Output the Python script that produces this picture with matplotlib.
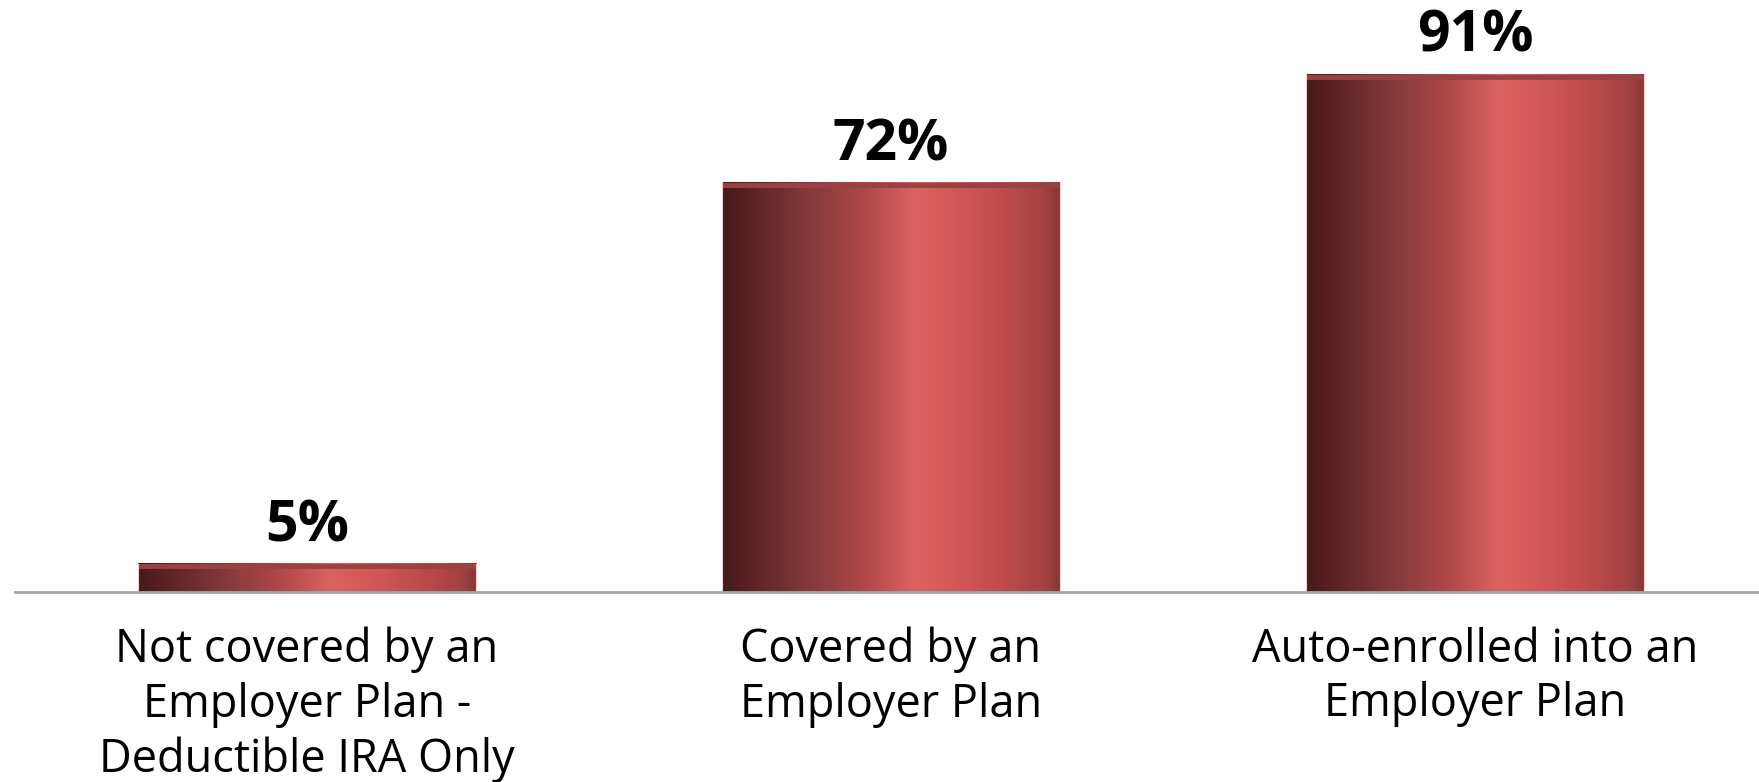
import numpy as np
import matplotlib
matplotlib.use('Agg')
import matplotlib.pyplot as plt
from matplotlib.colors import LinearSegmentedColormap
from matplotlib.transforms import offset_copy

categories = ['Not covered by an\nEmployer Plan -\nDeductible IRA Only',
              'Covered by an\nEmployer Plan',
              'Auto-enrolled into an\nEmployer Plan']
values = [5, 72, 91]
value_labels = ['5%', '72%', '91%']

plt.rcParams['font.family'] = ['Open Sans', 'DejaVu Sans']

# horizontal shading to fake the cylinder look
cyl = LinearSegmentedColormap.from_list('cyl', [
    (0.0, '#461a1a'), (0.06, '#562020'), (0.28, '#8a3c3c'), (0.42, '#ae4848'),
    (0.57, '#dc6262'), (0.67, '#d45a5a'), (0.82, '#c04c4c'), (0.95, '#a44242'),
    (1.0, '#883636')])

fig = plt.figure(figsize=(17.59, 7.82), dpi=100)
ax = fig.add_axes([15 / 1759, 190 / 782, 1752 / 1759, 569 / 782])

x = np.arange(len(values))
bars = ax.bar(x, values, width=0.58, color='none', edgecolor='none', zorder=2)

rim_lw = 3.5
rim_trans = offset_copy(ax.transData, fig=fig, y=-rim_lw / 2, units='points')
grad = np.linspace(0, 1, 256).reshape(1, -1)
for b, lab in zip(bars, value_labels):
    x0, y0 = b.get_x(), b.get_y()
    x1, y1 = x0 + b.get_width(), y0 + b.get_height()
    ax.imshow(grad, cmap=cyl, extent=[x0, x1, y0, y1], aspect='auto',
              interpolation='bicubic', zorder=2)
    # flat top rim
    ax.plot([x0, x1], [y1, y1], color='#9a4242', lw=rim_lw, solid_capstyle='butt',
            transform=rim_trans, zorder=3)
    ax.plot([x0, x0], [y0, y1], color='#ecd2d2', lw=0.8, zorder=3)
    ax.plot([x1, x1], [y0, y1], color='#ecd2d2', lw=0.8, zorder=3)
    ax.annotate(lab, (b.get_x() + b.get_width() / 2, y1), xytext=(0, 16),
                textcoords='offset points', ha='center', va='baseline',
                fontsize=41, fontweight='bold', color='black')

for xi, cat in zip(x, categories):
    ax.annotate(cat, (xi, 0), xytext=(0, -25), textcoords='offset points',
                ha='center', va='top', fontsize=32.5, linespacing=1.24, color='black')

ax.set_xlim(-0.5, 2.5)
ax.set_ylim(0, 100)
ax.set_xticks([])
ax.set_yticks([])
for s in ['top', 'right', 'left']:
    ax.spines[s].set_visible(False)
ax.spines['bottom'].set_color('#a6a6a6')
ax.spines['bottom'].set_linewidth(2)
ax.spines['bottom'].set_zorder(4)

fig.savefig('out.png', dpi=100)
